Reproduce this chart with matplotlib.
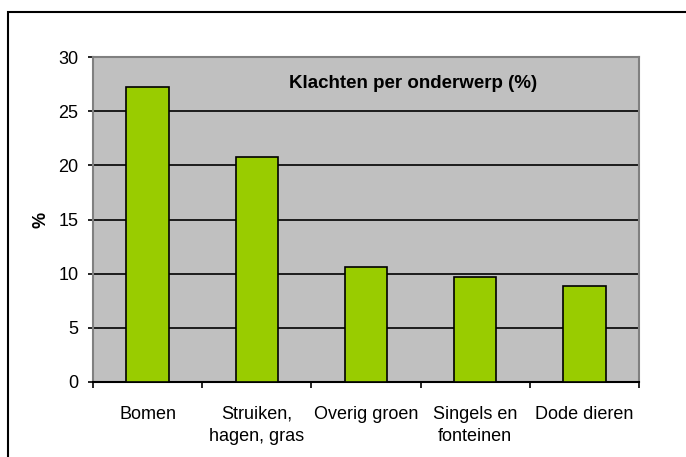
import matplotlib.pyplot as plt
from matplotlib.patches import Rectangle

categories = ['Bomen', 'Struiken,\nhagen, gras', 'Overig groen', 'Singels en\nfonteinen', 'Dode dieren']
values = [27.2, 20.8, 10.65, 9.7, 8.9]
yticks = [0, 5, 10, 15, 20, 25, 30]

plt.rcParams['font.family'] = ['Liberation Sans', 'DejaVu Sans']


def main():
    fig = plt.figure(figsize=(6.86, 4.57), dpi=100)
    ax = fig.add_axes([93 / 686, 75 / 457, 546 / 686, 325 / 457])

    xs = list(range(len(categories)))
    ax.bar(xs, values, width=0.39, color='#99CC00', edgecolor='black', linewidth=1.2, zorder=3)

    ax.set_facecolor('#C0C0C0')
    ax.set_xlim(-0.5, len(categories) - 0.5)
    ax.set_ylim(0, 30)
    ax.set_yticks(yticks)
    ax.yaxis.grid(True, color='black', linewidth=1.2)
    ax.set_axisbelow(True)

    # category boundaries as major ticks, labels on minor ticks
    ax.set_xticks([x - 0.5 for x in range(len(categories) + 1)])
    ax.set_xticklabels([])
    ax.set_xticks(xs, minor=True)
    ax.set_xticklabels(categories, minor=True, fontsize=13, linespacing=1.45)
    ax.tick_params(axis='x', which='major', direction='out', length=4, width=1.2)
    ax.tick_params(axis='x', which='minor', length=0, pad=17)
    ax.tick_params(axis='y', direction='out', length=3.5, width=1.2, labelsize=13, pad=7)

    for side in ['top', 'right', 'left']:
        ax.spines[side].set_color('#808080')
        ax.spines[side].set_linewidth(1.5)
    ax.spines['bottom'].set_color('black')
    ax.spines['bottom'].set_linewidth(1.5)

    ax.set_ylabel('%', fontsize=13, fontweight='bold')
    ax.yaxis.set_label_coords(-0.08, 0.5)

    ax.text(0.586, 0.92, 'Klachten per onderwerp (%)', transform=ax.transAxes,
            ha='center', va='center', fontsize=13.5, fontweight='bold')

    # outer chart border
    fig.patches.append(Rectangle((8 / 686, -0.1), 1.2, 1.1 - 12 / 457,
                                 transform=fig.transFigure, fill=False,
                                 edgecolor='black', linewidth=1.5))

    fig.savefig('out.png', dpi=100)


if __name__ == '__main__':
    main()
